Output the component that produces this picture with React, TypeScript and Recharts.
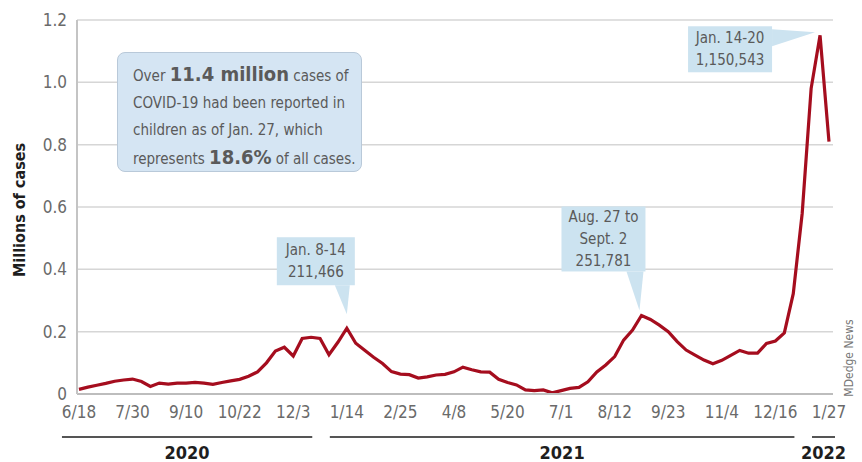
import React from "react";
import {
  LineChart,
  Line,
  XAxis,
  YAxis,
  CartesianGrid,
  ReferenceDot,
} from "recharts";

// weekly new child COVID-19 cases, millions (week ending 6/18/2020 ... 1/27/2022)
const weeklyCases = [
  0.015, 0.022, 0.028, 0.034, 0.041, 0.045, 0.048, 0.04, 0.024, 0.035,
  0.032, 0.035, 0.035, 0.037, 0.035, 0.031, 0.037, 0.042, 0.047, 0.057,
  0.071, 0.1, 0.138, 0.15, 0.122, 0.178, 0.182, 0.178, 0.126, 0.166,
  0.211, 0.163, 0.14, 0.118, 0.098, 0.072, 0.064, 0.062, 0.051, 0.055,
  0.061, 0.063, 0.071, 0.086, 0.078, 0.071, 0.07, 0.047, 0.037, 0.029,
  0.013, 0.011, 0.013, 0.004, 0.011, 0.018, 0.021, 0.039, 0.071, 0.093,
  0.12, 0.173, 0.205, 0.252, 0.239, 0.221, 0.2, 0.168, 0.141, 0.125,
  0.109, 0.097, 0.108, 0.124, 0.14, 0.131, 0.131, 0.162, 0.17, 0.196,
  0.322, 0.58, 0.98, 1.151, 0.81,
];

const tickLabels = [
  "6/18", "7/30", "9/10", "10/22", "12/3", "1/14", "2/25", "4/8",
  "5/20", "7/1", "8/12", "9/23", "11/4", "12/16", "1/27",
];
const tickWeeks = tickLabels.map((_, k) => k * 6);

const yTicks = [0, 0.2, 0.4, 0.6, 0.8, 1.0, 1.2];

// which week ticks belong to each year
const years = [
  { label: "2020", from: 0, to: 24 },
  { label: "2021", from: 30, to: 78 },
  { label: "2022", from: 84, to: 84 },
];

const callouts = [
  { week: 30, lines: ["Jan. 8-14", "211,466"], kind: "left" },
  { week: 63, lines: ["Aug. 27 to", "Sept. 2", "251,781"], kind: "mid" },
  { week: 83, lines: ["Jan. 14-20", "1,150,543"], kind: "top" },
];

const data = weeklyCases.map((v, i) => ({ week: i, cases: v }));

const FONT = "'Liberation Sans Narrow', 'DejaVu Sans Condensed', 'Arial Narrow', sans-serif";
const W = 862;
const H = 462;
const PLOT_LEFT = 77;
const PLOT_RIGHT = 833;
const X_MIN = -0.22;
const X_MAX = 84.45;
const sx = (w: number) =>
  PLOT_LEFT + ((w - X_MIN) / (X_MAX - X_MIN)) * (PLOT_RIGHT - PLOT_LEFT);

const BOX_FILL = "#cce3f0";
const TEXT_GRAY = "#5a5a5a";

function Callout(props: any) {
  const { cx, cy, lines, kind } = props;
  if (cx == null || cy == null) return null;
  let bx, by, bw, bh, tri;
  if (kind === "left") {
    bx = cx - 70; by = cy - 91; bw = 78; bh = 48;
    tri = `${cx - 12},${by + bh} ${cx + 3},${by + bh} ${cx},${cy - 14}`;
  } else if (kind === "mid") {
    bx = cx - 80; by = cy - 109; bw = 84; bh = 65;
    tri = `${cx - 15},${by + bh} ${cx + 2},${by + bh} ${cx - 2},${cy - 5}`;
  } else {
    bx = cx - 132; by = cy - 9; bw = 84; bh = 46;
    tri = `${bx + bw},${by + 3} ${bx + bw},${by + 20} ${cx - 5},${cy - 3}`;
  }
  const lh = 22;
  const top = by + bh / 2 - ((lines.length - 1) * lh) / 2;
  return (
    <g>
      <polygon points={tri} fill={BOX_FILL} />
      <rect x={bx} y={by} width={bw} height={bh} fill={BOX_FILL} />
      {lines.map((t: string, i: number) => (
        <text
          key={i}
          x={bx + bw / 2}
          y={top + i * lh}
          textAnchor="middle"
          dominantBaseline="central"
          fontSize={15}
          fill={TEXT_GRAY}
          fontFamily={FONT}
        >
          {t}
        </text>
      ))}
    </g>
  );
}

export default function App() {
  return (
    <div
      style={{
        position: "absolute",
        left: 0,
        top: 0,
        width: W,
        height: H,
        background: "#fff",
        fontFamily: FONT,
      }}
    >
      <LineChart
        width={W}
        height={H}
        data={data}
        margin={{ top: 20, right: W - PLOT_RIGHT, bottom: 38, left: 17 }}
      >
        <CartesianGrid
          vertical={false}
          stroke="#d6d6d6"
          strokeWidth={1.5}
        />
        <XAxis
          dataKey="week"
          type="number"
          domain={[X_MIN, X_MAX]}
          ticks={tickWeeks}
          tickFormatter={(w: number) => tickLabels[w / 6]}
          interval={0}
          height={30}
          tickLine={false}
          tickMargin={6}
          axisLine={{ stroke: "#bdbdbd", strokeWidth: 2 }}
          tick={{ fontSize: 17, fill: "#6a6a6a", fontFamily: FONT }}
        />
        <YAxis
          domain={[0, 1.2]}
          ticks={yTicks}
          width={60}
          tickLine={false}
          tickMargin={4}
          tickFormatter={(v: number) => (v === 0 ? "0" : v.toFixed(1))}
          axisLine={{ stroke: "#c4c4c4", strokeWidth: 2 }}
          tick={{ fontSize: 17, fill: "#6a6a6a", fontFamily: FONT }}
        />
        <Line
          type="linear"
          dataKey="cases"
          stroke="#a50d1e"
          strokeWidth={3.2}
          dot={false}
          isAnimationActive={false}
        />
        {callouts.map((c) => (
          <ReferenceDot
            key={c.week}
            x={c.week}
            y={weeklyCases[c.week]}
            ifOverflow="visible"
            shape={(p: any) => <Callout {...p} lines={c.lines} kind={c.kind} />}
          />
        ))}
      </LineChart>

      {/* y axis title, year brackets, credit */}
      <svg
        width={W}
        height={H}
        style={{ position: "absolute", left: 0, top: 0, pointerEvents: "none" }}
      >
        <text
          x={19}
          y={210}
          transform="rotate(-90 19 210)"
          textAnchor="middle"
          dominantBaseline="central"
          fontSize={16}
          fontWeight="bold"
          fill="#1e1e1e"
          fontFamily={FONT}
        >
          Millions of cases
        </text>
        {years.map((y) => {
          const x1 = sx(y.from) - 17;
          const x2 = Math.min(sx(y.to) + 19, 835);
          return (
            <g key={y.label}>
              <line x1={x1} x2={x2} y1={437} y2={437} stroke="#555" strokeWidth={2} />
              <text
                x={(x1 + x2) / 2}
                y={452}
                textAnchor="middle"
                dominantBaseline="central"
                fontSize={18}
                fontWeight="bold"
                fill="#1e1e1e"
                fontFamily={FONT}
              >
                {y.label}
              </text>
            </g>
          );
        })}
        <text
          x={849}
          y={358}
          transform="rotate(-90 849 358)"
          textAnchor="middle"
          dominantBaseline="central"
          fontSize={12}
          fill="#777"
          fontFamily={FONT}
        >
          MDedge News
        </text>
      </svg>

      <div
        style={{
          position: "absolute",
          left: 117,
          top: 52,
          width: 245,
          height: 120,
          boxSizing: "border-box",
          background: "#d5e5f3",
          border: "1.5px solid #b9c9d9",
          borderRadius: 8,
          padding: "8px 0 0 15px",
          color: TEXT_GRAY,
          fontSize: 15,
          lineHeight: "27px",
          whiteSpace: "nowrap",
        }}
      >
        <div>
          Over <b style={{ fontSize: 20 }}>11.4 million</b> cases of
        </div>
        <div>COVID-19 had been reported in</div>
        <div>children as of Jan. 27, which</div>
        <div>
          represents <b style={{ fontSize: 20 }}>18.6%</b> of all cases.
        </div>
      </div>
    </div>
  );
}
